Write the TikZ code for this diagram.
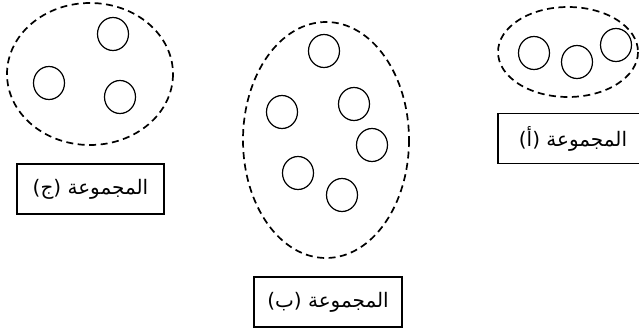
\documentclass[tikz,border=0pt]{standalone}
\usepackage{fontspec}
\newfontfamily\arabicfont[Script=Arabic]{DejaVu Sans}
\TeXXeTstate=1
\begin{document}
\begin{tikzpicture}[x=1pt,y=-1pt,
  setline/.style={draw=black,line width=1.7pt,dash pattern=on 7pt off 4.5pt},
  elem/.style={draw=black,line width=1.2pt},
  lbl/.style={draw=black,line width=1.2pt,minimum height=50pt,font=\arabicfont\fontsize{20}{22}\selectfont,inner sep=0pt}]
\useasboundingbox (0,0) rectangle (639,332);
% group C
\draw[setline] (90,74) ellipse [x radius=83, y radius=71];
\draw[elem] (113,34) ellipse [x radius=15.5, y radius=16.5];
\draw[elem] (49,83) ellipse [x radius=15.5, y radius=16.5];
\draw[elem] (120,97) ellipse [x radius=15.5, y radius=16.5];
\node[lbl,minimum width=147pt] (lc) at (90.5,189) {\beginR المجموعة (ج)\endR};
% group B
\draw[setline] (326,140) ellipse [x radius=83, y radius=118];
\draw[elem] (324,51) ellipse [x radius=15.5, y radius=16.5];
\draw[elem] (282,112) ellipse [x radius=15.5, y radius=16.5];
\draw[elem] (354,104) ellipse [x radius=15.5, y radius=16.5];
\draw[elem] (372,145) ellipse [x radius=15.5, y radius=16.5];
\draw[elem] (298,173) ellipse [x radius=15.5, y radius=16.5];
\draw[elem] (342,195) ellipse [x radius=15.5, y radius=16.5];
\node[lbl,minimum width=148pt] (lb) at (328,302) {\beginR المجموعة (ب)\endR};
% group A
\draw[setline] (568,52) ellipse [x radius=70, y radius=45];
\draw[elem] (534,53) ellipse [x radius=15.5, y radius=16.5];
\draw[elem] (577,62) ellipse [x radius=15.5, y radius=16.5];
\draw[elem] (616,45) ellipse [x radius=15.5, y radius=16.5];
\node[lbl,minimum width=150pt] (la) at (573,138.5) {\beginR المجموعة (أ)\endR};
\end{tikzpicture}
\end{document}
